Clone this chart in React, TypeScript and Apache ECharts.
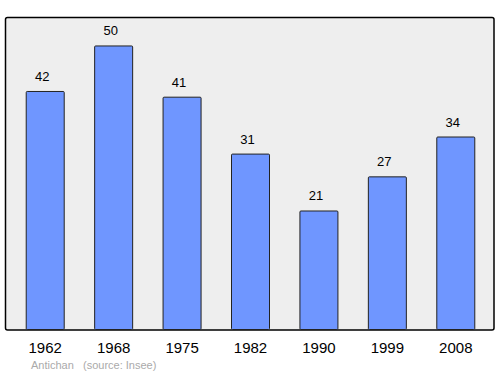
import React, { useEffect, useRef } from "react";
import * as echarts from "echarts";

const years = ["1962", "1968", "1975", "1982", "1990", "1999", "2008"];
const population = [42, 50, 41, 31, 21, 27, 34];
const footerName = "Antichan";
const footerSource = "(source: Insee)";

export default function App() {
  const ref = useRef<HTMLDivElement>(null);
  useEffect(() => {
    if (!ref.current) return;
    const chart = echarts.init(ref.current, null, { renderer: "svg" });
    chart.setOption({
      animation: false,
      textStyle: { fontFamily: "Liberation Sans, Arial, sans-serif" },
      grid: { left: 11, right: 10, top: 17, bottom: 44 },
      xAxis: {
        type: "category",
        data: years,
        axisLine: { show: false },
        axisTick: { show: false },
        axisLabel: { color: "#000", fontSize: 15, margin: 10 },
      },
      yAxis: { type: "value", min: 0, max: 55, show: false, splitLine: { show: false } },
      graphic: [
        {
          type: "rect",
          z: -10,
          shape: { x: 5.5, y: 17.5, width: 488.5, height: 312.5, r: 2 },
          style: { fill: "#eeeeee", stroke: "#000", lineWidth: 1.5 },
        },
        {
          type: "text",
          x: 31,
          y: 359,
          style: { text: footerName, fill: "#aaa", fontSize: 11, fontFamily: "Liberation Sans, Arial, sans-serif" },
        },
        {
          type: "text",
          x: 83,
          y: 359,
          style: { text: footerSource, fill: "#aaa", fontSize: 11, fontFamily: "Liberation Sans, Arial, sans-serif" },
        },
      ],
      series: [
        {
          type: "bar",
          data: population,
          barWidth: 39,
          itemStyle: { color: "#6f96ff", borderColor: "#222", borderWidth: 1, borderRadius: 1 },
          label: { show: true, position: "top", distance: 8, offset: [-3, 0], color: "#000", fontSize: 13 },
        },
      ],
    });
    return () => chart.dispose();
  }, []);
  return <div ref={ref} style={{ width: 500, height: 374, position: "absolute", left: 0, top: 0 }} />;
}
